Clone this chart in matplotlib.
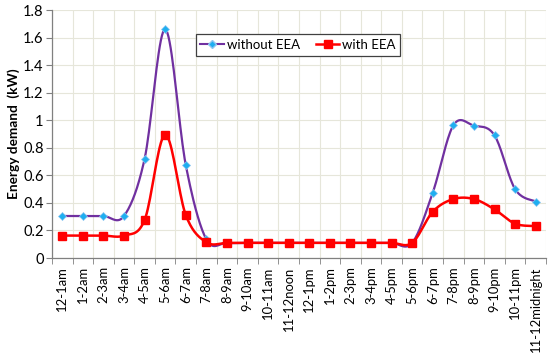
import numpy as np
import matplotlib
matplotlib.use("Agg")
import matplotlib.pyplot as plt

plt.rcParams['font.family'] = ['Lato', 'DejaVu Sans']

hours = ["12-1am", "1-2am", "2-3am", "3-4am", "4-5am", "5-6am", "6-7am", "7-8am",
         "8-9am", "9-10am", "10-11am", "11-12noon", "12-1pm", "1-2pm", "2-3pm",
         "3-4pm", "4-5pm", "5-6pm", "6-7pm", "7-8pm", "8-9pm", "9-10pm",
         "10-11pm", "11-12midnight"]
without_eea = [0.305, 0.305, 0.305, 0.305, 0.72, 1.66, 0.675, 0.135, 0.11, 0.11,
               0.11, 0.11, 0.11, 0.11, 0.11, 0.11, 0.11, 0.11, 0.475, 0.963,
               0.961, 0.89, 0.50, 0.41]
with_eea = [0.163, 0.163, 0.163, 0.163, 0.276, 0.895, 0.312, 0.114, 0.11, 0.11,
            0.11, 0.11, 0.11, 0.11, 0.11, 0.11, 0.11, 0.11, 0.336, 0.428,
            0.428, 0.353, 0.249, 0.232]


# smoothed line like excel (bezier through the points)
def smooth(x, y, n=20):
    x = np.asarray(x, float)
    y = np.asarray(y, float)
    px = np.concatenate([[x[0]], x, [x[-1]]])
    py = np.concatenate([[y[0]], y, [y[-1]]])
    xs, ys = [], []
    t = np.linspace(0, 1, n)
    for i in range(1, len(x)):
        p0 = np.array([px[i], py[i]])
        p3 = np.array([px[i + 1], py[i + 1]])
        c1 = p0 + (np.array([px[i + 1], py[i + 1]]) - np.array([px[i - 1], py[i - 1]])) / 6
        c2 = p3 - (np.array([px[i + 2], py[i + 2]]) - np.array([px[i], py[i]])) / 6
        b = ((1 - t) ** 3)[:, None] * p0 + (3 * (1 - t) ** 2 * t)[:, None] * c1 \
            + (3 * (1 - t) * t ** 2)[:, None] * c2 + (t ** 3)[:, None] * p3
        xs.append(b[:, 0])
        ys.append(b[:, 1])
    return np.concatenate(xs), np.concatenate(ys)


fig = plt.figure(figsize=(5.5, 3.59), dpi=100)
ax = fig.add_axes([0.0945, 0.2813, 0.8982, 0.6907])

x = np.arange(len(hours))
blue_line = "#7030A0"
blue_mk = "#1EAEF0"
red = "#FF0000"

sx, sy = smooth(x, without_eea)
ax.plot(sx, sy, color=blue_line, lw=1.6, zorder=3)
ax.plot(x, without_eea, ls="none", marker="D", ms=4.5, mfc=blue_mk, mec="#8EC6F0",
        mew=0.5, zorder=4)
sx, sy = smooth(x, with_eea)
ax.plot(sx, sy, color=red, lw=1.8, zorder=5)
ax.plot(x, with_eea, ls="none", marker="s", ms=5.5, mfc=red, mec=red, zorder=6)

# legend handles
ax.plot([], [], color=blue_line, marker="D", ms=4.5, mfc=blue_mk, mec="#8EC6F0",
        label="without EEA")
ax.plot([], [], color=red, marker="s", ms=5.5, lw=1.8, label="with EEA")
leg = ax.legend(loc="center", bbox_to_anchor=(0.498, 0.859), ncol=2, fontsize=9.5,
                frameon=True, fancybox=False, edgecolor="#404040", framealpha=1,
                handlelength=1.8, handletextpad=0.2, columnspacing=1.2,
                borderpad=0.35)
leg.get_frame().set_linewidth(0.9)

ax.set_xlim(-0.5, len(hours) - 0.5)
ax.set_ylim(0, 1.8)
ax.set_yticks(np.arange(0, 1.81, 0.2))
ax.set_yticklabels(["0", "0.2", "0.4", "0.6", "0.8", "1", "1.2", "1.4", "1.6", "1.8"])
ax.set_xticks(x)
ax.set_xticklabels(hours, rotation=90, fontsize=9.4)
ax.set_xticks(np.arange(-0.5, len(hours), 1), minor=True)
ax.tick_params(axis="x", which="major", length=0, pad=6)
ax.tick_params(axis="x", which="minor", length=4, direction="out", color="#808080")
ax.tick_params(axis="y", labelsize=10.5, length=4, color="#808080", pad=2)

ax.grid(True, axis="y", color="#E6E6DA", lw=0.8)
ax.grid(True, axis="x", which="minor", color="#E6E6DA", lw=0.8)
ax.set_axisbelow(True)
for s in ["top", "right"]:
    ax.spines[s].set_visible(False)
for s in ["left", "bottom"]:
    ax.spines[s].set_color("#808080")
    ax.spines[s].set_linewidth(0.9)

ax.set_ylabel("Energy demand  (kW)", fontsize=9.8, fontweight="bold", labelpad=2)

fig.savefig("out.png", dpi=100)
